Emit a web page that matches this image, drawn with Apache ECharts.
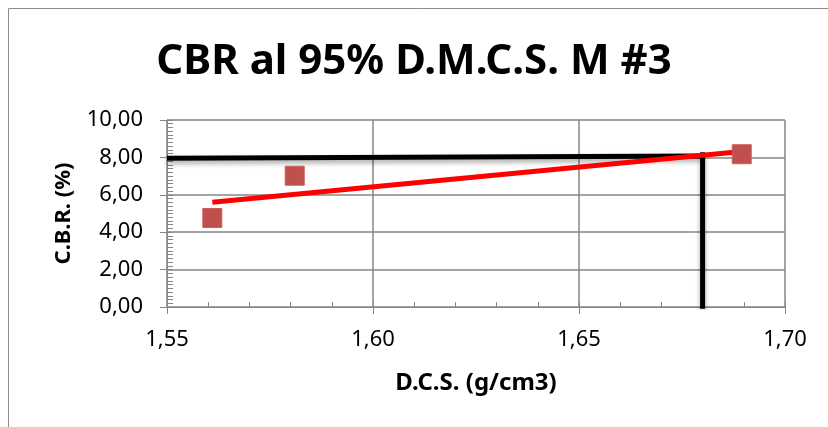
<!DOCTYPE html>
<html><head><meta charset="utf-8">
<script src="https://cdn.jsdelivr.net/npm/echarts@6/dist/echarts.min.js"></script>
<style>html,body{margin:0;padding:0;background:#fff}#c{width:828px;height:427px}</style>
</head><body><div id="c"></div>
<script>
const titleText = 'CBR al 95% D.M.C.S. M #3';
const xName = 'D.C.S. (g/cm3)';
const yName = 'C.B.R. (%)';
const cbrX = [1.561, 1.581, 1.6895];
const cbrY = [4.76, 7.02, 8.17];
const trendX = [1.561, 1.6895];
const trendY = [5.60, 8.32];
const refHX = [1.55, 1.68];
const refHY = [7.96, 8.07];
const refVX = [1.68, 1.68];
const refVY = [-0.1, 8.27];

const pts = cbrX.map((x,i)=>[x,cbrY[i]]);
const trend = trendX.map((x,i)=>[x,trendY[i]]);
const refH = refHX.map((x,i)=>[x,refHY[i]]);
const refV = refVX.map((x,i)=>[x,refVY[i]]);
const font = '"Noto Sans", sans-serif';
const gray = '#868686';
const chart = echarts.init(document.getElementById('c'));
const blackLine = {color:'#000',width:5,shadowColor:'rgba(0,0,0,0.35)',shadowBlur:5,shadowOffsetY:3};
const fmt = v=>v.toFixed(2).replace('.',',');
chart.setOption({
  animation:false,
  graphic:[{type:'rect',shape:{x:8.5,y:8.5,width:900,height:600},style:{fill:'none',stroke:'#8c8c8c',lineWidth:1}}],
  title:{text:titleText,left:'center',top:36,textStyle:{fontFamily:font,fontWeight:'bold',fontSize:42,color:'#000'}},
  grid:{left:167,right:43,top:120,bottom:120},
  xAxis:[{type:'value',min:1.55,max:1.70,interval:0.05,
    name:xName,nameLocation:'middle',nameGap:64,nameMoveOverlap:false,
    nameTextStyle:{fontFamily:font,fontWeight:'bold',fontSize:24,color:'#000'},
    axisLine:{show:true,lineStyle:{color:gray,width:1}},
    axisTick:{show:true,length:7,lineStyle:{color:gray}},
    axisLabel:{fontFamily:font,fontSize:22,color:'#000',margin:22,formatter:fmt},
    splitLine:{show:true,lineStyle:{color:gray,width:1.5}}},
   {type:'value',min:1.55,max:1.70,interval:0.01,position:'bottom',
    axisLine:{show:false},axisLabel:{show:false},splitLine:{show:false},
    axisTick:{show:true,inside:true,length:5,lineStyle:{color:gray}}}],
  yAxis:[{type:'value',min:0,max:10,interval:2,
    name:yName,nameLocation:'middle',nameGap:92,nameRotate:90,nameMoveOverlap:false,
    nameTextStyle:{fontFamily:font,fontWeight:'bold',fontSize:22,color:'#000'},
    axisLine:{show:true,lineStyle:{color:gray,width:1}},
    axisTick:{show:true,length:7,lineStyle:{color:gray}},
    axisLabel:{fontFamily:font,fontSize:22,color:'#000',margin:24,formatter:fmt},
    splitLine:{show:true,lineStyle:{color:gray,width:1.5}}},
   {type:'value',min:0,max:10,interval:0.2,position:'left',
    axisLine:{show:false},axisLabel:{show:false},splitLine:{show:false},
    axisTick:{show:true,inside:true,length:6,lineStyle:{color:gray}}}],
  series:[
    {type:'line',data:refH,symbol:'none',lineStyle:blackLine,z:3},
    {type:'line',data:refV,symbol:'none',lineStyle:blackLine,z:3},
    {type:'line',data:trend,symbol:'none',lineStyle:{color:'#ff0000',width:5},z:4},
    {type:'scatter',data:pts,symbol:'rect',symbolSize:19,itemStyle:{color:'#C0504D',opacity:1,borderColor:'#cc5e5b',borderWidth:1},z:5}
  ]
});
</script></body></html>
